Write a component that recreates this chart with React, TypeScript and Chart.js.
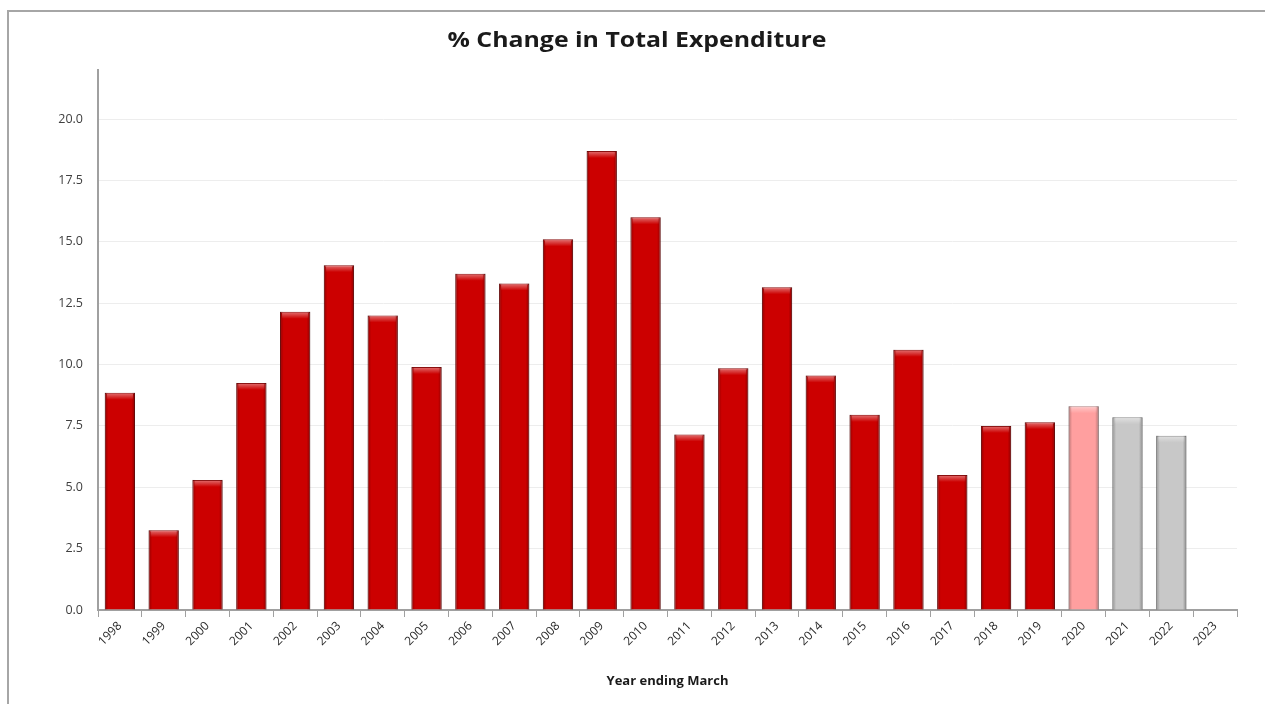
import React, { useEffect, useRef } from "react";
import { Chart, registerables } from "chart.js";

Chart.register(...registerables);

const years = [
  "1998", "1999", "2000", "2001", "2002", "2003", "2004", "2005", "2006",
  "2007", "2008", "2009", "2010", "2011", "2012", "2013", "2014", "2015",
  "2016", "2017", "2018", "2019", "2020", "2021", "2022", "2023",
];

const pctChange: (number | null)[] = [
  8.85, 3.25, 5.3, 9.25, 12.15, 14.05, 12.0, 9.9, 13.7, 13.3, 15.1, 18.7, 16.0,
  7.15, 9.85, 13.15, 9.55, 7.95, 10.6, 5.5, 7.5, 7.65, 8.3, 7.85, 7.1, null,
];

const barKind = [
  "actual", "actual", "actual", "actual", "actual", "actual", "actual", "actual",
  "actual", "actual", "actual", "actual", "actual", "actual", "actual", "actual",
  "actual", "actual", "actual", "actual", "actual", "actual",
  "estimate", "forecast", "forecast", "forecast",
];

const yTicksShown = [0, 2.5, 5, 7.5, 10, 12.5, 15, 17.5, 20];

const chartTitle = "% Change in Total Expenditure";
const xAxisTitle = "Year ending March";

const kindFill: Record<string, string> = {
  actual: "#cc0000",
  estimate: "#ff9f9f",
  forecast: "#c8c8c8",
};
const kindBorder: Record<string, string> = {
  actual: "#8a1010",
  estimate: "#b08080",
  forecast: "#8c8c8c",
};

const FONT = "'Open Sans', 'DejaVu Sans', sans-serif";

const bevelPlugin = {
  id: "bevel",
  afterDatasetsDraw(chart: any) {
    const ctx = chart.ctx;
    const meta = chart.getDatasetMeta(0);
    meta.data.forEach((bar: any, i: number) => {
      if (pctChange[i] == null) return;
      const { x, y, base, width } = bar.getProps(["x", "y", "base", "width"], true);
      const left = x - width / 2;
      const h = base - y;
      ctx.save();
      const g = ctx.createLinearGradient(left, 0, left + width, 0);
      g.addColorStop(0, "rgba(0,0,0,0.28)");
      g.addColorStop(0.12, "rgba(0,0,0,0)");
      g.addColorStop(0.88, "rgba(0,0,0,0)");
      g.addColorStop(1, "rgba(0,0,0,0.3)");
      ctx.fillStyle = g;
      ctx.fillRect(left, y, width, h);
      const capH = Math.min(7, h);
      const g2 = ctx.createLinearGradient(0, y, 0, y + capH);
      g2.addColorStop(0, "rgba(255,255,255,0.45)");
      g2.addColorStop(1, "rgba(255,255,255,0)");
      ctx.fillStyle = g2;
      ctx.fillRect(left + 2, y + 1, width - 4, capH);
      ctx.restore();
    });
  },
};

const titlePlugin = {
  id: "stretchedTitle",
  afterDraw(chart: any) {
    const ctx = chart.ctx;
    ctx.save();
    ctx.font = `bold 22px ${FONT}`;
    ctx.fillStyle = "#1a1a1a";
    ctx.textAlign = "center";
    ctx.textBaseline = "middle";
    ctx.translate(637, 41);
    ctx.scale(1.13, 1);
    ctx.fillText(chartTitle, 0, 0);
    ctx.restore();
  },
};

export default function App() {
  const canvasRef = useRef<HTMLCanvasElement | null>(null);

  useEffect(() => {
    if (!canvasRef.current) return;
    const chart = new Chart(canvasRef.current, {
      type: "bar",
      data: {
        labels: years,
        datasets: [
          {
            data: pctChange,
            backgroundColor: barKind.map((k) => kindFill[k]),
            borderColor: barKind.map((k) => kindBorder[k]),
            borderWidth: 1,
            barPercentage: 0.69,
            categoryPercentage: 1,
          },
        ],
      },
      plugins: [bevelPlugin, titlePlugin],
      options: {
        animation: false,
        responsive: false,
        maintainAspectRatio: false,
        layout: { padding: { left: 0, right: 28, top: 70, bottom: 0 } },
        plugins: {
          legend: { display: false },
          tooltip: { enabled: false },
          title: { display: false },
        },
        scales: {
          x: {
            offset: true,
            grid: {
              offset: true,
              drawOnChartArea: false,
              drawTicks: true,
              tickLength: 7,
              color: "#a0a0a0",
            },
            border: { color: "#a0a0a0", width: 2 },
            ticks: {
              minRotation: 45,
              maxRotation: 45,
              color: "#2a2a2a",
              font: { family: FONT, size: 12 },
              padding: 2,
            },
            title: {
              display: true,
              text: xAxisTitle,
              color: "#1a1a1a",
              font: { family: FONT, size: 13, weight: "bold" },
              padding: { top: 4, bottom: 15 },
            },
            afterFit(scale: any) {
              scale.height = 94;
            },
          },
          y: {
            min: 0,
            max: 22,
            afterBuildTicks(scale: any) {
              scale.ticks = yTicksShown.map((v) => ({ value: v }));
            },
            grid: {
              color: "#ededed",
              drawTicks: false,
              tickLength: 0,
            },
            border: { color: "#a0a0a0", width: 2 },
            ticks: {
              color: "#404040",
              font: { family: FONT, size: 12.5 },
              padding: 15,
              callback: (v: any) => Number(v).toFixed(1),
            },
            afterFit(scale: any) {
              scale.width = 98;
            },
          },
        },
      },
    });
    return () => chart.destroy();
  }, []);

  return (
    <div style={{ position: "fixed", left: 0, top: 0, width: 1265, height: 704, background: "#fff", overflow: "hidden" }}>
      <div
        style={{
          position: "absolute",
          left: 7,
          top: 10,
          width: 1300,
          height: 760,
          border: "2px solid #a6a6a6",
          boxSizing: "border-box",
        }}
      />
      <canvas
        ref={canvasRef}
        width={1265}
        height={704}
        style={{ position: "absolute", left: 0, top: 0, width: 1265, height: 704 }}
      />
    </div>
  );
}
